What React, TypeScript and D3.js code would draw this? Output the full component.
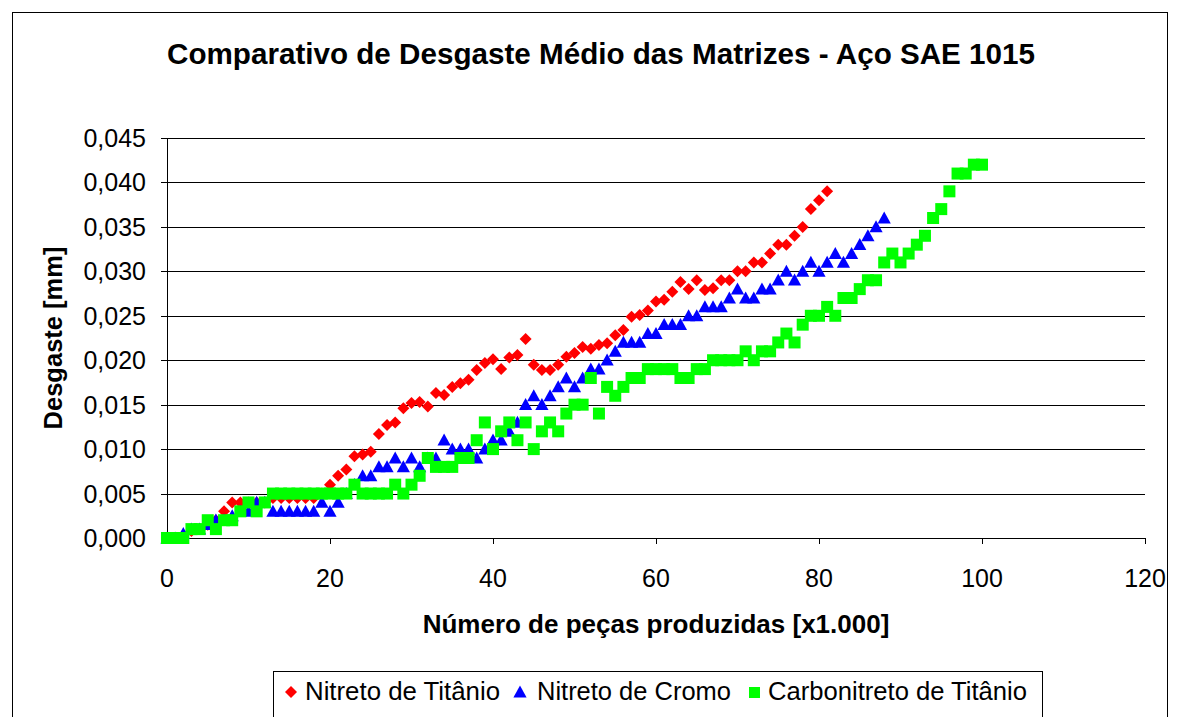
import React from "react";
import * as d3 from "d3";

const titleText = "Comparativo de Desgaste Médio das Matrizes - Aço SAE 1015";
const xAxisTitle = "Número de peças produzidas [x1.000]";
const yAxisTitle = "Desgaste [mm]";
const seriesNames = ["Nitreto de Titânio", "Nitreto de Cromo", "Carbonitreto de Titânio"];
const xTicks = [0, 20, 40, 60, 80, 100, 120];
const yTicks = [0, 0.005, 0.01, 0.015, 0.02, 0.025, 0.03, 0.035, 0.04, 0.045];

// Nitreto de Titânio: x = 0..81 (thousand pieces)
const nitretoTitanio = [
  0.0, 0.0, 0.0003, 0.0008, 0.001, 0.0015, 0.002, 0.003, 0.004, 0.004,
  0.004, 0.004, 0.004, 0.0045, 0.0045, 0.0045, 0.0045, 0.0045, 0.0045, 0.005,
  0.006, 0.007, 0.0077, 0.0092, 0.0094, 0.0097, 0.0117, 0.0127, 0.013, 0.0146,
  0.0152, 0.0153, 0.0148, 0.0163, 0.0161, 0.017, 0.0174, 0.0178, 0.0189, 0.0197,
  0.0201, 0.019, 0.0203, 0.0206, 0.0224, 0.0195, 0.0189, 0.0189, 0.0195, 0.0204,
  0.0208, 0.0215, 0.0213, 0.0217, 0.0219, 0.0228, 0.0234, 0.0249, 0.0251, 0.0256,
  0.0266, 0.0268, 0.0277, 0.0288, 0.028, 0.029, 0.0279, 0.0281, 0.029, 0.029,
  0.03, 0.03, 0.031, 0.031, 0.032, 0.033, 0.033, 0.034, 0.035, 0.037,
  0.038, 0.039,
];

// Nitreto de Cromo: x = 0..88
const nitretoCromo = [
  0.0, 0.0, 0.0005, 0.001, 0.001, 0.0015, 0.002, 0.002, 0.0025, 0.003,
  0.003, 0.004, 0.004, 0.003, 0.003, 0.003, 0.003, 0.003, 0.003, 0.004,
  0.003, 0.004, 0.005, 0.006, 0.007, 0.007, 0.008, 0.008, 0.009, 0.008,
  0.009, 0.008, 0.009, 0.009, 0.011, 0.01, 0.01, 0.01, 0.009, 0.01,
  0.011, 0.011, 0.012, 0.013, 0.015, 0.016, 0.015, 0.016, 0.017, 0.018,
  0.017, 0.018, 0.019, 0.019, 0.02, 0.021, 0.022, 0.022, 0.022, 0.023,
  0.023, 0.024, 0.024, 0.024, 0.025, 0.025, 0.026, 0.026, 0.026, 0.027,
  0.028, 0.027, 0.027, 0.028, 0.028, 0.029, 0.03, 0.029, 0.03, 0.031,
  0.03, 0.031, 0.032, 0.031, 0.032, 0.033, 0.034, 0.035, 0.036,
];

// Carbonitreto de Titânio: x = 0..100
const carbonitretoTitanio = [
  0.0, 0.0, 0.0, 0.001, 0.001, 0.002, 0.001, 0.002, 0.002, 0.003,
  0.004, 0.003, 0.004, 0.005, 0.005, 0.005, 0.005, 0.005, 0.005, 0.005,
  0.005, 0.005, 0.005, 0.006, 0.005, 0.005, 0.005, 0.005, 0.006, 0.005,
  0.006, 0.007, 0.009, 0.008, 0.008, 0.008, 0.009, 0.009, 0.011, 0.013,
  0.01, 0.012, 0.013, 0.011, 0.013, 0.01, 0.012, 0.013, 0.012, 0.014,
  0.015, 0.015, 0.018, 0.014, 0.017, 0.016, 0.017, 0.018, 0.018, 0.019,
  0.019, 0.019, 0.019, 0.018, 0.018, 0.019, 0.019, 0.02, 0.02, 0.02,
  0.02, 0.021, 0.02, 0.021, 0.021, 0.022, 0.023, 0.022, 0.024, 0.025,
  0.025, 0.026, 0.025, 0.027, 0.027, 0.028, 0.029, 0.029, 0.031, 0.032,
  0.031, 0.032, 0.033, 0.034, 0.036, 0.037, 0.039, 0.041, 0.041, 0.042,
  0.042,
];

const FONT = "'Liberation Sans', Arial, sans-serif";

export default function App() {
  const W = 1179;
  const H = 717;
  const left = 167;
  const right = 1145;
  const top = 138;
  const bottom = 538;

  const x = d3.scaleLinear().domain([0, 120]).range([left, right]);
  const y = d3.scaleLinear().domain([0, 0.045]).range([bottom, top]);
  const fmtY = (v: number) => d3.format(".3f")(v).replace(".", ",");

  const markerDiamond = (cx: number, cy: number, r: number) =>
    `M${cx},${cy - r}L${cx + r},${cy}L${cx},${cy + r}L${cx - r},${cy}Z`;
  const markerTri = (cx: number, cy: number, s: number) =>
    `M${cx},${cy - s * 0.55}L${cx + s * 0.55},${cy + s * 0.45}L${cx - s * 0.55},${cy + s * 0.45}Z`;

  const colors = ["#FF0000", "#0000FF", "#00FF00"];

  return (
    <svg
      width={W}
      height={H}
      style={{ position: "absolute", left: 0, top: 0, background: "#fff" }}
      fontFamily={FONT}
    >
      <rect x={0} y={0} width={W} height={H} fill="#fff" />
      {/* outer frame */}
      <rect x={12.5} y={12.5} width={1155} height={760} fill="none" stroke="#000" strokeWidth={1} />

      {/* title */}
      <text
        x={601}
        y={64}
        textAnchor="middle"
        fontSize={29}
        fontWeight="bold"
        fill="#000"
        textLength={868}
        lengthAdjust="spacingAndGlyphs"
      >
        {titleText}
      </text>

      {/* gridlines */}
      {yTicks.map((t) => (
        <line
          key={"g" + t}
          x1={left}
          x2={right}
          y1={Math.round(y(t)) + 0.5}
          y2={Math.round(y(t)) + 0.5}
          stroke="#000"
          strokeWidth={1}
        />
      ))}

      {/* y axis */}
      <line x1={left + 0.5} x2={left + 0.5} y1={top} y2={bottom} stroke="#000" />
      {yTicks.map((t) => (
        <g key={"yt" + t}>
          <line
            x1={left - 6}
            x2={left}
            y1={Math.round(y(t)) + 0.5}
            y2={Math.round(y(t)) + 0.5}
            stroke="#000"
          />
          <text x={146} y={y(t)} dy="0.36em" textAnchor="end" fontSize={25} fill="#000">
            {fmtY(t)}
          </text>
        </g>
      ))}

      {/* x axis */}
      {xTicks.map((t) => (
        <g key={"xt" + t}>
          <line
            x1={Math.round(x(t)) + 0.5}
            x2={Math.round(x(t)) + 0.5}
            y1={bottom}
            y2={bottom + 6}
            stroke="#000"
          />
          <text x={x(t)} y={587} textAnchor="middle" fontSize={25} fill="#000">
            {t}
          </text>
        </g>
      ))}

      {/* axis titles */}
      <text x={656} y={633} textAnchor="middle" fontSize={26} fontWeight="bold" fill="#000">
        {xAxisTitle}
      </text>
      <text
        transform={`translate(62,338) rotate(-90)`}
        textAnchor="middle"
        fontSize={25.5}
        fontWeight="bold"
        fill="#000"
      >
        {yAxisTitle}
      </text>

      {/* series */}
      <g>
        {nitretoTitanio.map((v, i) => (
          <path key={"r" + i} d={markerDiamond(x(i), y(v), 6)} fill={colors[0]} />
        ))}
      </g>
      <g>
        {nitretoCromo.map((v, i) => (
          <path key={"b" + i} d={markerTri(x(i), y(v), 12)} fill={colors[1]} />
        ))}
      </g>
      <g>
        {carbonitretoTitanio.map((v, i) => (
          <rect key={"gr" + i} x={x(i) - 6} y={y(v) - 6} width={12} height={12} fill={colors[2]} />
        ))}
      </g>

      {/* legend */}
      <rect x={273.5} y={671.5} width={769} height={70} fill="#fff" stroke="#000" />
      <path d={markerDiamond(291, 692, 6)} fill={colors[0]} />
      <text x={305} y={700} fontSize={25} fill="#000" textLength={195} lengthAdjust="spacingAndGlyphs">
        {seriesNames[0]}
      </text>
      <path d={markerTri(520, 692, 12)} fill={colors[1]} />
      <text x={537} y={700} fontSize={25} fill="#000" textLength={194} lengthAdjust="spacingAndGlyphs">
        {seriesNames[1]}
      </text>
      <rect x={749} y={687} width={11} height={11} fill={colors[2]} />
      <text x={768} y={700} fontSize={25} fill="#000" textLength={259} lengthAdjust="spacingAndGlyphs">
        {seriesNames[2]}
      </text>
    </svg>
  );
}
